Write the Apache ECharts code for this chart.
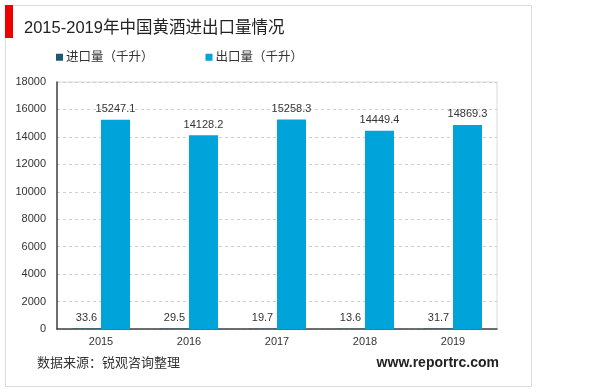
<!DOCTYPE html>
<html>
<head>
<meta charset="utf-8">
<script src="https://cdn.jsdelivr.net/npm/echarts@6/dist/echarts.min.js"></script>
<style>html,body{margin:0;padding:0;background:#fff;}#c{width:600px;height:392px;}</style>
</head>
<body>
<div id="c"></div>
<script>
const titleText = '2015-2019年中国黄酒进出口量情况';
const categories = ['2015', '2016', '2017', '2018', '2019'];
const seriesNames = ['进口量（千升）', '出口量（千升）'];
const importValues = [33.6, 29.5, 19.7, 13.6, 31.7];
const exportValues = [15247.1, 14128.2, 15258.3, 14449.4, 14869.3];
const sourceText = '数据来源：锐观咨询整理';
const siteText = 'www.reportrc.com';

const FONT = '"Liberation Sans", "Noto Sans CJK SC", sans-serif';
const chart = echarts.init(document.getElementById('c'), null, {renderer: 'canvas'});
const labelStyle = {show: true, position: 'top', distance: 5, color: '#333', fontSize: 11, fontFamily: FONT};
chart.setOption({
  animation: false,
  backgroundColor: '#fff',
  textStyle: {fontFamily: FONT},
  title: {
    text: titleText, left: 19, top: 15,
    textStyle: {fontSize: 16.5, fontWeight: 'normal', color: '#222', fontFamily: FONT}
  },
  legend: {
    left: 51, top: 46, icon: 'rect', itemWidth: 7, itemHeight: 7, itemGap: 52,
    textStyle: {fontSize: 12.5, color: '#333', fontFamily: FONT, padding: [0, 0, 0, -2]},
    data: seriesNames
  },
  grid: {left: 57, top: 82, right: 103, bottom: 63, show: true, borderColor: '#d9d9d9', borderWidth: 1},
  xAxis: {
    type: 'category', data: categories,
    axisLine: {lineStyle: {color: '#444', width: 1.5}},
    axisTick: {show: false},
    axisLabel: {color: '#333', fontSize: 11, margin: 7, fontFamily: FONT}
  },
  yAxis: {
    type: 'value', min: 0, max: 18000, interval: 2000,
    axisLine: {show: true, lineStyle: {color: '#444', width: 1.5}},
    axisTick: {show: false},
    axisLabel: {color: '#333', fontSize: 11, margin: 11, fontFamily: FONT, formatter: v => String(v)},
    splitLine: {lineStyle: {color: '#cfcfcf', type: [3, 3]}}
  },
  series: [
    {name: seriesNames[0], type: 'bar', data: importValues, barWidth: 29, barGap: '0%',
     itemStyle: {color: '#1d5a70'}, label: labelStyle},
    {name: seriesNames[1], type: 'bar', data: exportValues, barWidth: 29,
     itemStyle: {color: '#00a3da'}, label: labelStyle}
  ],
  graphic: [
    {type: 'rect', shape: {x: 5.5, y: 5.5, width: 526, height: 381}, silent: true, z: -10,
     style: {fill: 'none', stroke: '#dcdcdc', lineWidth: 1}},
    {type: 'rect', shape: {x: 5, y: 5, width: 8, height: 33}, silent: true,
     style: {fill: '#ee0000'}},
    {type: 'text', left: 37, top: 357, silent: true,
     style: {text: sourceText, fontSize: 13, fill: '#333', fontFamily: FONT}},
    {type: 'text', right: 101, top: 356, silent: true,
     style: {text: siteText, fontSize: 14, fontWeight: 'bold', fill: '#222', fontFamily: FONT}}
  ]
});
</script>
</body>
</html>
